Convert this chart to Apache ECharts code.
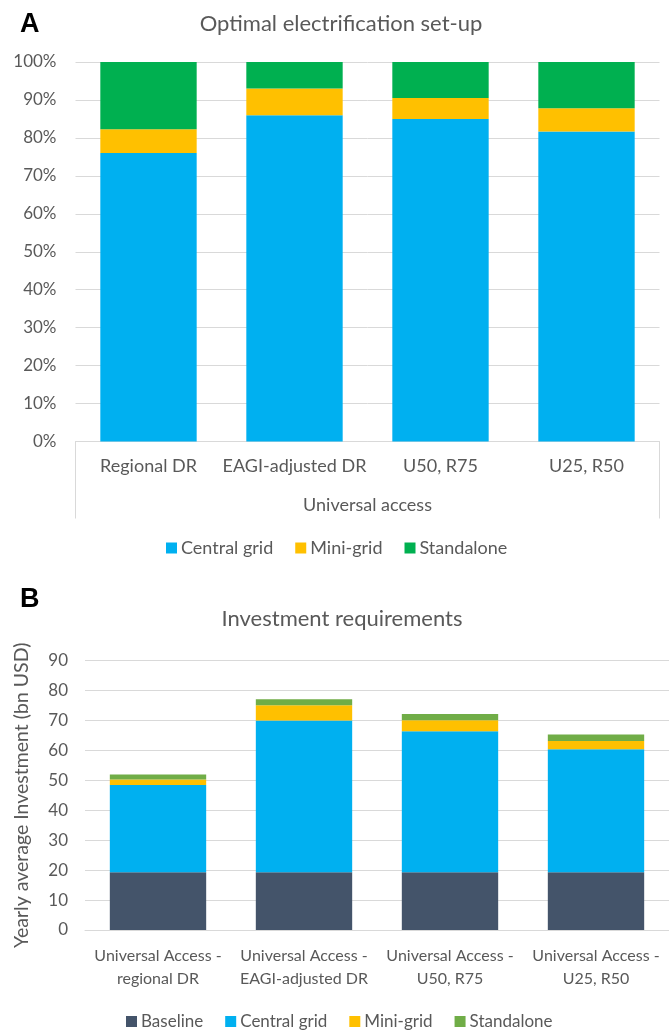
<!DOCTYPE html>
<html>
<head>
<meta charset="utf-8">
<script src="https://cdn.jsdelivr.net/npm/echarts@6/dist/echarts.min.js"></script>
<style>
  html, body { margin: 0; padding: 0; background: #fff; }
  #chart { width: 669px; height: 1032px; }
</style>
</head>
<body>
<div id="chart"></div>
<script>
// Panel A: optimal electrification set-up (share of connections, %)
const setupCategories = ['Regional DR', 'EAGI-adjusted DR', 'U50, R75', 'U25, R50'];
const setupCentral    = [76.0, 86.0, 85.0, 81.7];
const setupMini       = [6.3, 7.0, 5.5, 6.1];
const setupStandalone = [17.7, 7.0, 9.5, 12.2];
const setupTicks = [0, 10, 20, 30, 40, 50, 60, 70, 80, 90, 100];

// Panel B: yearly average investment (bn USD)
const investCategories = [
  'Universal Access -\nregional DR',
  'Universal Access -\nEAGI-adjusted DR',
  'Universal Access -\nU50, R75',
  'Universal Access -\nU25, R50'
];
const investBaseline   = [19.3, 19.3, 19.3, 19.3];
const investCentral    = [29.2, 50.7, 47.1, 41.1];
const investMini       = [1.8, 5.1, 3.7, 2.8];
const investStandalone = [1.7, 2.0, 2.1, 2.1];
const investTicks = [0, 10, 20, 30, 40, 50, 60, 70, 80, 90];

const FONT = 'Lato, "Open Sans", sans-serif';
const TEXT = '#595959';
const GRID = '#D9D9D9';
const C_BASE = '#44546A', C_CENTRAL = '#00B0F0', C_MINI = '#FFC000';
const C_STAND_A = '#00B050', C_STAND_B = '#70AD47';

const chart = echarts.init(document.getElementById('chart'), null, { renderer: 'canvas' });

function txt(size) {
  return { color: TEXT, fontFamily: FONT, fontSize: size };
}

function bar(name, data, color, xi, yi) {
  return {
    name, type: 'bar', stack: 's' + xi, data,
    xAxisIndex: xi, yAxisIndex: yi,
    barWidth: '66%',
    itemStyle: { color },
    emphasis: { disabled: true }
  };
}

const option = {
  animation: false,
  backgroundColor: '#fff',
  title: [
    { text: 'A', left: 15, top: 6, textStyle: { fontFamily: 'Liberation Sans, Arial', fontWeight: 'bold', fontSize: 27, color: '#000' } },
    { text: 'Optimal electrification set-up', left: 336, textAlign: 'center', top: 8,
      textStyle: { fontFamily: FONT, fontWeight: 'normal', fontSize: 22, color: TEXT } },
    { text: 'B', left: 15, top: 581, textStyle: { fontFamily: 'Liberation Sans, Arial', fontWeight: 'bold', fontSize: 27, color: '#000' } },
    { text: 'Investment requirements', left: 337, textAlign: 'center', top: 603,
      textStyle: { fontFamily: FONT, fontWeight: 'normal', fontSize: 22, color: TEXT } }
  ],
  legend: [
    {
      left: 161, top: 534, itemWidth: 11, itemHeight: 11, itemGap: 22,
      icon: 'rect', selectedMode: false,
      textStyle: Object.assign({ padding: [0, 0, 0, -1] }, txt(18)),
      data: [
        { name: 'Central grid', itemStyle: { color: C_CENTRAL } },
        { name: 'Mini-grid', itemStyle: { color: C_MINI } },
        { name: 'Standalone', itemStyle: { color: C_STAND_A } }
      ]
    },
    {
      left: 121, top: 1008, itemWidth: 11, itemHeight: 11, itemGap: 22,
      icon: 'rect', selectedMode: false,
      textStyle: Object.assign({ padding: [0, 0, 0, -1] }, txt(17)),
      data: [
        { name: 'Baseline', itemStyle: { color: C_BASE } },
        { name: 'Central grid', itemStyle: { color: C_CENTRAL } },
        { name: 'Mini-grid', itemStyle: { color: C_MINI } },
        { name: 'Standalone', itemStyle: { color: C_STAND_B } }
      ]
    }
  ],
  grid: [
    { left: 75.5, top: 62, width: 584, height: 379.5 },
    { left: 85, top: 660.7, width: 587, height: 269.3 }
  ],
  xAxis: [
    {
      type: 'category', gridIndex: 0, data: setupCategories,
      axisLine: { lineStyle: { color: GRID, width: 1 } },
      axisTick: { show: false },
      axisLabel: Object.assign({ margin: 16, interval: 0 }, txt(18)),
      name: 'Universal access', nameLocation: 'middle', nameGap: 55,
      nameTextStyle: txt(18)
    },
    {
      // bracket enclosing the category group below panel A
      type: 'value', gridIndex: 0, min: 0, max: 1, interval: 1, position: 'bottom',
      axisLine: { show: false },
      axisTick: { show: true, length: 77, lineStyle: { color: GRID, width: 1 } },
      axisLabel: { show: false }, splitLine: { show: false }
    },
    {
      type: 'category', gridIndex: 1, data: investCategories,
      axisLine: { lineStyle: { color: GRID, width: 1 } },
      axisTick: { show: false },
      axisLabel: Object.assign({ margin: 14, interval: 0, lineHeight: 23 }, txt(16))
    }
  ],
  yAxis: [
    {
      type: 'value', gridIndex: 0,
      min: setupTicks[0], max: setupTicks[setupTicks.length - 1], interval: setupTicks[1] - setupTicks[0],
      axisLine: { show: false }, axisTick: { show: false },
      axisLabel: Object.assign({ margin: 19, formatter: '{value}%' }, txt(17)),
      splitLine: { lineStyle: { color: GRID, width: 1 } }
    },
    {
      type: 'value', gridIndex: 1,
      min: investTicks[0], max: investTicks[investTicks.length - 1], interval: investTicks[1] - investTicks[0],
      axisLine: { show: false }, axisTick: { show: false },
      axisLabel: Object.assign({ margin: 17 }, txt(17)),
      splitLine: { lineStyle: { color: GRID, width: 1 } },
      name: 'Yearly average Investment (bn USD)', nameLocation: 'middle', nameGap: 53,
      nameTextStyle: txt(19.5)
    }
  ],
  series: [
    bar('Central grid', setupCentral, C_CENTRAL, 0, 0),
    bar('Mini-grid', setupMini, C_MINI, 0, 0),
    bar('Standalone', setupStandalone, C_STAND_A, 0, 0),
    bar('Baseline', investBaseline, C_BASE, 2, 1),
    bar('Central grid', investCentral, C_CENTRAL, 2, 1),
    bar('Mini-grid', investMini, C_MINI, 2, 1),
    bar('Standalone', investStandalone, C_STAND_B, 2, 1)
  ]
};

chart.setOption(option);
</script>
</body>
</html>
